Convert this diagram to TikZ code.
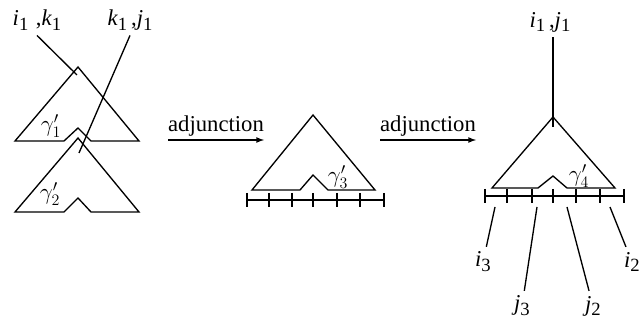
\documentclass[tikz,border=0pt]{standalone}
\usepackage{fontspec}
\setmainfont{Liberation Serif}
\usepackage{tikz}
\newcommand{\lbl}[2]{\textit{#1}\raisebox{-0.22em}{\fontsize{14}{14}\selectfont #2}}

\begin{document}
\begin{tikzpicture}[x=0.75pt, y=-0.75pt, line width=1pt, font=\fontsize{17}{19}\selectfont]
\useasboundingbox (0,0) rectangle (642,323);
% gamma_1' and gamma_2'
\draw (15,141) -- (64,141) -- (78,128) -- (91,141) -- (139,141) -- (78,67) -- cycle;
\draw (15,212) -- (64,212) -- (78,198) -- (91,212) -- (139,212) -- (78,138) -- cycle;
\node (g1) at (51,126) {$\gamma'_1$};
\node (g2) at (50,194) {$\gamma'_2$};
\coordinate (a1) at (77,75);
\coordinate (a2) at (79,153);
\node (ik) at (37,20) {\lbl{i}{1}\,\,,\lbl{k}{1}};
\node (kj) at (130,20) {\lbl{k}{1}\,,\lbl{j}{1}};
\draw (ik.south) -- (a1);
\draw (kj.south) -- (a2);

% first adjunction
\coordinate (s1) at (168,140);
\coordinate (e1) at (264,140);
\draw[-latex] (s1) -- node[above=-1pt] (adj1) {adjunction} (e1);

% gamma_3'
\draw (252,190) -- (300,190) -- (313,175) -- (328,190) -- (375,190) -- (313,115) -- cycle;
\draw (247,200) -- (384,200);
\foreach \x in {247,269,292,313,337,360,384}
  \draw (\x,193) -- (\x,207);
\node (g3) at (338,177) {$\gamma'_3$};

% second adjunction
\coordinate (s2) at (380,140);
\coordinate (e2) at (476,140);
\draw[-latex] (s2) -- node[above=-1pt] (adj2) {adjunction} (e2);

% gamma_4'
\draw (492,188) -- (538,188) -- (553,176) -- (567,188) -- (615,188) -- (553,117) -- cycle;
\draw (485,196) -- (624,196);
\foreach \x in {485,507,532,553,576,600,624}
  \draw (\x,189) -- (\x,203);
\node (g4) at (579,176) {$\gamma'_4$};
\coordinate (a4) at (553,127);
\node (ij) at (550,22) {\lbl{i}{1}\,,\lbl{j}{1}};
\draw (ij.south -| a4) -- (a4);

% leaves
\coordinate (t1) at (495,207);
\coordinate (t2) at (537,207);
\coordinate (t3) at (567,207);
\coordinate (t4) at (610,207);
\node (i3) at (483,262) {\lbl{i}{3}};
\node (j3) at (522,306) {\lbl{j}{3}};
\node (j2) at (593,306) {\lbl{j}{2}};
\node (i2) at (632,262) {\lbl{i}{2}};
\draw (t1) -- (i3);
\draw (t2) -- (j3);
\draw (t3) -- (j2);
\draw (t4) -- (i2);
\end{tikzpicture}
\end{document}
